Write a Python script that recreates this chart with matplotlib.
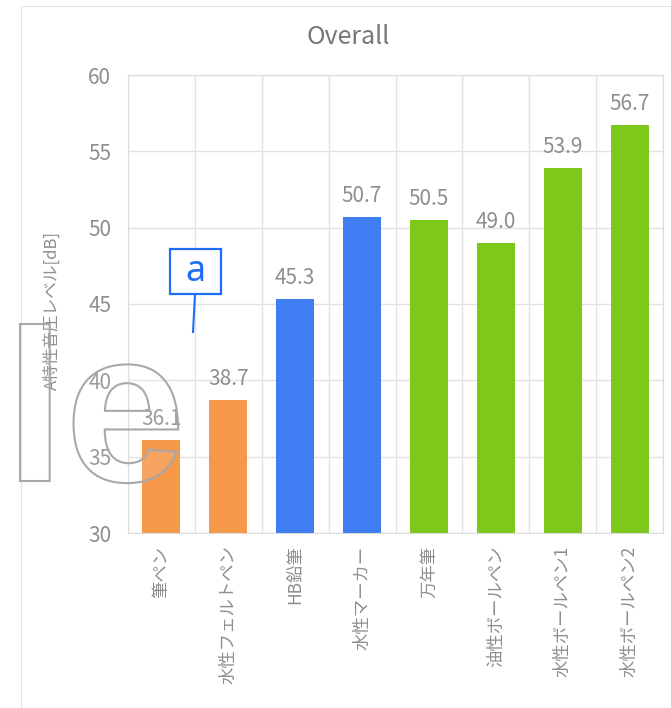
import matplotlib
matplotlib.use("Agg")
import numpy as np
from matplotlib import pyplot as plt
from matplotlib.patches import Rectangle, PathPatch
from matplotlib.textpath import TextPath
from matplotlib.font_manager import FontProperties
from matplotlib.transforms import Affine2D, IdentityTransform

plt.rcParams['font.family'] = ['Noto Sans CJK JP', 'DejaVu Sans']

# 筆記具ごとのA特性音圧レベル
labels = ["筆ペン", "水性フェルトペン", "HB鉛筆", "水性マーカー",
          "万年筆", "油性ボールペン", "水性ボールペン1", "水性ボールペン2"]
values = [36.1, 38.7, 45.3, 50.7, 50.5, 49.0, 53.9, 56.7]
groups = ["felt", "felt", "hard", "hard", "ball", "ball", "ball", "ball"]
group_colors = {"felt": "#F5984A", "hard": "#3F7DF3", "ball": "#7EC81C"}
yticks = [30, 35, 40, 45, 50, 55, 60]

W, H = 671, 708
fig = plt.figure(figsize=(W / 100, H / 100), dpi=100)
ax = fig.add_axes([128 / W, 1 - 533 / H, 535 / W, 458 / H])

x = np.arange(len(labels))
colors = [group_colors[g] for g in groups]
ax.bar(x, values, width=0.57, color=colors, zorder=2)

for xi, v in zip(x, values):
    ax.annotate(f"{v:.1f}", (xi, v), xytext=(0, 11), textcoords="offset points",
                ha="center", va="baseline", fontsize=15, color="#8e8e8e")

ax.set_xlim(-0.5, len(labels) - 0.5)
ax.set_ylim(30, 60)
ax.set_yticks(yticks)
ax.set_xticks(x)
ax.set_xticklabels(labels, rotation=90, va="top", ha="center")
ax.tick_params(axis="x", length=0, pad=9, labelsize=12.5, labelcolor="#8e8e8e")
ax.tick_params(axis="y", length=0, pad=12, labelsize=15, labelcolor="#8e8e8e")

# 縦の区切り線はカテゴリ境界に
ax.set_xticks(np.arange(len(labels) + 1) - 0.5, minor=True)
ax.tick_params(axis="x", which="minor", length=0)
ax.grid(axis="y", color="#e2e2e2", lw=1, zorder=0)
ax.grid(axis="x", which="minor", color="#e2e2e2", lw=1, zorder=0)
for sp in ax.spines.values():
    sp.set_color("#dcdcdc")

fig.text(348 / W, 1 - 37 / H, "Overall", ha="center", va="center",
         fontsize=18, color="#777777")
fig.text(52 / W, 1 - 310 / H, "A特性音圧レベル[dB]", rotation=90,
         ha="center", va="center", fontsize=12, color="#8e8e8e")

# 外枠（ピクセル座標）
fig.add_artist(Rectangle((21, -20), 700, H - 6 + 20, transform=IdentityTransform(),
                         fc="none", ec="#e3e3e3", lw=0.8, zorder=0.5))

# 透かし文字
fp = FontProperties(family="Liberation Sans", weight="bold")
def ext(s):
    return TextPath((0, 0), s, size=1, prop=fp).get_extents()
l_box = ext("l")
l_left = ext("Sampl").x1 - l_box.width
s = 157 / l_box.height
wm_path = TextPath((0, 0), "Sample", size=1, prop=fp)
wm_tr = Affine2D().translate(-l_left, -l_box.y0).scale(s).translate(20, H - 481)
fig.add_artist(PathPatch(wm_path, transform=wm_tr, fc=(1, 1, 1, 0.12),
                         ec="#a8a8a8", lw=1.5, zorder=5))

# 注記 a
blue = "#1E6EF5"
fig.add_artist(plt.Line2D([195, 193], [H - 294, H - 332], transform=IdentityTransform(),
                          color=blue, lw=1.5, zorder=6))
fig.add_artist(Rectangle((170, H - 294), 51, 45, transform=IdentityTransform(),
                         fc="white", ec=blue, lw=1.6, zorder=6))
fig.text(195.5 / W, 1 - 272 / H, "a", ha="center", va="center",
         fontsize=26, color=blue, family="Noto Sans", zorder=7)

fig.savefig("out.png", dpi=100)
